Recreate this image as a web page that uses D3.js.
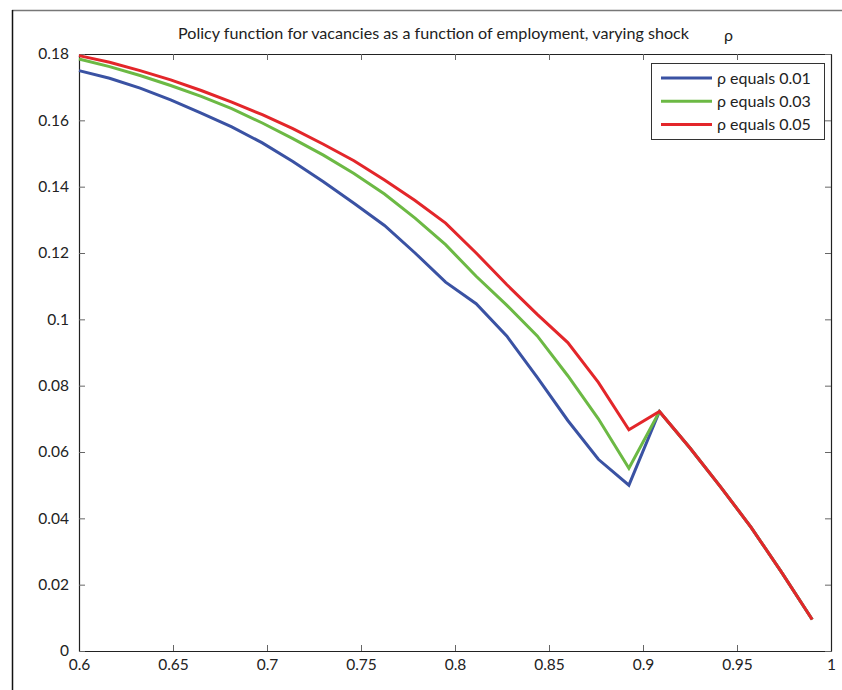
<!DOCTYPE html>
<html>
<head>
<meta charset="utf-8">
<script src="https://cdn.jsdelivr.net/npm/d3@7"></script>
<style>
  body { margin: 0; background: #fff; }
  svg { display: block; font-family: Lato, "Open Sans", sans-serif; }
</style>
</head>
<body>
<svg id="chart" width="842" height="690"></svg>
<script>
// employment grid (25 points, 0.6 .. 0.99)
const employment = [0.6, 0.61625, 0.6325, 0.64875, 0.665, 0.68125, 0.6975, 0.71375, 0.73, 0.74625,
    0.7625, 0.77875, 0.795, 0.81125, 0.8275, 0.84375, 0.86, 0.87625, 0.8925, 0.90875,
    0.925, 0.94125, 0.9575, 0.97375, 0.99];

const rho01 = [0.1750, 0.1727, 0.1697, 0.1662, 0.1622, 0.1580, 0.1532, 0.1476, 0.1415, 0.1350,
    0.1283, 0.1200, 0.1112, 0.1047, 0.0950, 0.0825, 0.0695, 0.0578, 0.0500, 0.0722,
    0.0612, 0.0495, 0.0373, 0.0237, 0.0095];
const rho03 = [0.1785, 0.1762, 0.1735, 0.1705, 0.1672, 0.1635, 0.1592, 0.1545, 0.1495, 0.1440,
    0.1378, 0.1305, 0.1225, 0.1130, 0.1043, 0.0950, 0.0830, 0.0700, 0.0551, 0.0722,
    0.0612, 0.0495, 0.0373, 0.0237, 0.0095];
const rho05 = [0.1795, 0.1775, 0.1750, 0.1722, 0.1690, 0.1655, 0.1617, 0.1575, 0.1528, 0.1478,
    0.1420, 0.1358, 0.1290, 0.1200, 0.1105, 0.1015, 0.0930, 0.0810, 0.0667, 0.0722,
    0.0612, 0.0495, 0.0373, 0.0237, 0.0095];

const seriesNames = ["ρ equals 0.01", "ρ equals 0.03", "ρ equals 0.05"];
const seriesColors = ["#3a52a3", "#6cb944", "#e3262a"];
const xTicks = [0.6, 0.65, 0.7, 0.75, 0.8, 0.85, 0.9, 0.95, 1];
const yTicks = [0, 0.02, 0.04, 0.06, 0.08, 0.1, 0.12, 0.14, 0.16, 0.18];

let svg = d3.select("#chart");

// figure frame
svg.append("line").attr("x1", 12).attr("x2", 842).attr("y1", 10.5).attr("y2", 10.5)
    .attr("stroke", "#777").attr("stroke-width", 1.5);
svg.append("line").attr("x1", 12.5).attr("x2", 12.5).attr("y1", 10).attr("y2", 690)
    .attr("stroke", "#111").attr("stroke-width", 1.5);

let plotLeft = 79, plotRight = 831, plotTop = 54, plotBottom = 651;

let x = d3.scaleLinear().domain([0.6, 1]).range([plotLeft, plotRight]);
let y = d3.scaleLinear().domain([0, 0.18]).range([plotBottom, plotTop]);
let fmt = d3.format("~g");

// axes with inward ticks
let g = svg.append("g");
g.append("g").attr("transform", `translate(0,${plotBottom})`)
    .call(d3.axisBottom(x).tickValues(xTicks).tickFormat(fmt).tickSizeInner(-6).tickSizeOuter(0).tickPadding(8));
g.append("g").attr("transform", `translate(0,${plotTop})`)
    .call(d3.axisTop(x).tickValues(xTicks).tickFormat("").tickSizeInner(-6).tickSizeOuter(0));
g.append("g").attr("transform", `translate(${plotLeft},0)`)
    .call(d3.axisLeft(y).tickValues(yTicks).tickFormat(fmt).tickSizeInner(-6).tickSizeOuter(0).tickPadding(10));
g.append("g").attr("transform", `translate(${plotRight},0)`)
    .call(d3.axisRight(y).tickValues(yTicks).tickFormat("").tickSizeInner(-6).tickSizeOuter(0));

g.selectAll(".domain").attr("stroke", "#222").attr("stroke-width", 1.2);
g.selectAll(".tick line").attr("stroke", "#666");
g.selectAll(".tick text").attr("font-size", 15.5).attr("fill", "#222")
    .attr("font-family", "Lato, sans-serif");

// lines
let line = d3.line().x((d, i) => x(employment[i])).y(d => y(d));
[rho01, rho03, rho05].forEach((vals, k) => {
    svg.append("path")
        .attr("d", line(vals))
        .attr("fill", "none")
        .attr("stroke", seriesColors[k])
        .attr("stroke-width", 3)
        .attr("stroke-linejoin", "miter");
});

// title
svg.append("text")
    .attr("x", 178).attr("y", 39)
    .attr("font-size", 16).attr("fill", "#222")
    .attr("textLength", 511).attr("lengthAdjust", "spacingAndGlyphs")
    .text("Policy function for vacancies as a function of employment, varying shock");
svg.append("text")
    .attr("x", 724).attr("y", 41)
    .attr("font-size", 16).attr("fill", "#222")
    .text("ρ");

// legend
let legend = svg.append("g");
legend.append("rect")
    .attr("x", 651.5).attr("y", 63.5).attr("width", 173).attr("height", 76)
    .attr("fill", "#fff").attr("stroke", "#333").attr("stroke-width", 1);
seriesNames.forEach((name, k) => {
    let ly = 78 + k * 23.3;
    legend.append("line")
        .attr("x1", 661).attr("x2", 712).attr("y1", ly).attr("y2", ly)
        .attr("stroke", seriesColors[k]).attr("stroke-width", 3);
    legend.append("text")
        .attr("x", 717).attr("y", ly + 5.5)
        .attr("font-size", 16).attr("fill", "#222")
        .text(name);
});
</script>
</body>
</html>
